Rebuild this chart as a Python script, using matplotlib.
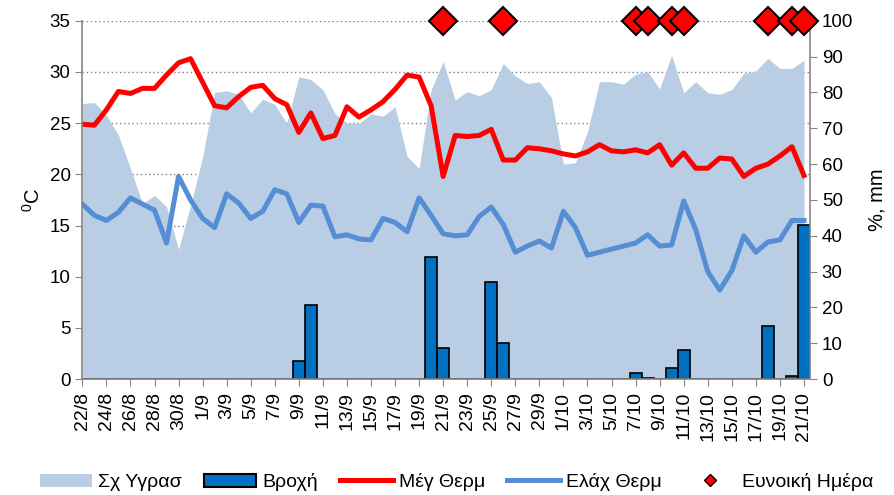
import matplotlib
matplotlib.use("Agg")
import matplotlib.pyplot as plt
import pandas as pd
from matplotlib.patches import Patch
from matplotlib.lines import Line2D

plt.rcParams['font.family'] = ['Liberation Sans', 'DejaVu Sans']
plt.rcParams['mathtext.default'] = 'regular'

# ----- data -----
days = pd.date_range("2013-08-22", "2013-10-21")
dates = [f"{d.day}/{d.month}" for d in days]

humidity = [76.9, 77.2, 73.7, 68.1, 58.8, 49.0, 51.3, 48.1, 36.2, 48.5, 62.0, 80.0, 80.5,
            79.4, 74.3, 78.1, 76.7, 71.3, 84.4, 83.6, 80.8, 74.1, 71.5, 71.3, 74.0,
            73.4, 76.0, 62.2, 58.8, 80.7, 88.6, 77.9, 80.2, 79.1, 80.8, 88.1, 84.6,
            82.5, 83.0, 78.6, 60.0, 60.4, 69.0, 83.0, 83.0, 82.3, 85.1, 85.8, 81.0,
            90.4, 79.9, 83.0, 79.9, 79.5, 80.8, 85.3, 86.0, 89.5, 86.7, 86.7, 89.0]

tmax = [24.9, 24.8, 26.3, 28.1, 27.9, 28.4, 28.4, 29.7, 30.9, 31.3, 29.0, 26.7, 26.5,
        27.6, 28.5, 28.7, 27.4, 26.8, 24.1, 26.0, 23.5, 23.8, 26.6, 25.6, 26.3,
        27.1, 28.3, 29.7, 29.5, 26.7, 19.8, 23.8, 23.7, 23.8, 24.4, 21.4, 21.4,
        22.6, 22.5, 22.3, 22.0, 21.8, 22.2, 22.9, 22.3, 22.2, 22.4, 22.1, 22.9,
        20.9, 22.1, 20.6, 20.6, 21.6, 21.5, 19.8, 20.6, 21.0, 21.8, 22.7, 19.9]

tmin = [17.1, 16.0, 15.5, 16.3, 17.7, 17.1, 16.5, 13.3, 19.8, 17.5, 15.7, 14.8, 18.1,
        17.2, 15.7, 16.4, 18.5, 18.1, 15.3, 17.0, 16.9, 13.9, 14.1, 13.7, 13.6,
        15.7, 15.3, 14.4, 17.7, 16.0, 14.2, 14.0, 14.1, 15.9, 16.8, 15.1, 12.4,
        13.0, 13.5, 12.8, 16.4, 14.8, 12.1, 12.4, 12.7, 13.0, 13.3, 14.1, 13.0,
        13.1, 17.4, 14.6, 10.5, 8.7, 10.6, 14.0, 12.4, 13.4, 13.6, 15.5, 15.5]

rain = [0, 0, 0, 0, 0, 0, 0, 0, 0, 0, 0, 0, 0,
        0, 0, 0, 0, 0, 5.1, 20.8, 0, 0, 0, 0, 0,
        0, 0, 0, 0, 34.1, 8.6, 0, 0, 0, 27.0, 10.2, 0,
        0, 0, 0, 0, 0, 0, 0, 0, 0, 1.6, 0.2, 0,
        3.2, 8.1, 0, 0, 0, 0, 0, 0, 14.8, 0, 0.8, 43.0]

good_days = ["21/9", "26/9", "7/10", "8/10", "10/10", "11/10", "18/10", "20/10", "21/10"]

x = list(range(len(dates)))
good_x = [dates.index(d) for d in good_days]

c_hum = '#B9CDE5'
c_rain = '#0070C0'
c_max = '#FF0000'
c_min = '#558ED5'
c_axis = '#868686'

fig = plt.figure(figsize=(8.95, 4.95), dpi=100)
ax = fig.add_axes([0.092, 0.234, 0.813, 0.724])

# left axis: temperature scale + grid
ax.set_xlim(0, 60.5)
ax.set_ylim(0, 35)
ax.set_yticks(range(0, 36, 5))
ax.yaxis.grid(True, color='#808080', linestyle=(0, (1, 2)), linewidth=1)
ax.set_axisbelow(True)
ax.set_xticks(x[::2])
ax.set_xticklabels(dates[::2], rotation=90)
ax.tick_params(axis='both', labelsize=13.5, color=c_axis, length=5)
ax.tick_params(axis='x', labelsize=14, pad=4)
ax.set_ylabel('$^{0}$C', fontsize=14.5, labelpad=4)
for s in ax.spines.values():
    s.set_visible(False)

# right axis: humidity and rain
axr = ax.twinx()
axr.set_ylim(0, 100)
axr.set_yticks(range(0, 101, 10))
axr.fill_between(x, humidity, 0, color=c_hum, lw=0)
axr.bar(x, rain, width=1.0, color=c_rain, edgecolor='black', linewidth=1.2)
axr.tick_params(axis='y', labelsize=13.5, color=c_axis, length=5)
axr.set_ylabel('%, mm', fontsize=14.5, labelpad=10)
for s in axr.spines.values():
    s.set_visible(False)

# temperatures on top of area
axt = ax.twinx()
axt.set_ylim(0, 35)
axt.yaxis.set_visible(False)
axt.plot(x, tmax, color=c_max, lw=3.6, solid_joinstyle='round')
axt.plot(x, tmin, color=c_min, lw=3.6, solid_joinstyle='round')
axt.spines['top'].set_visible(False)
for k in ['left', 'right', 'bottom']:
    axt.spines[k].set_color(c_axis)
    axt.spines[k].set_linewidth(1.2)

# favourable days markers
axd = ax.twinx()
axd.set_ylim(0, 100)
axd.set_axis_off()
axd.plot(good_x, [100] * len(good_x), linestyle='none', marker='D', ms=14,
         mfc='#FF0000', mec='black', mew=1.5, clip_on=False)

handles = [Patch(fc=c_hum, ec='none'),
           Patch(fc=c_rain, ec='black', lw=1.5),
           Line2D([], [], color=c_max, lw=3.6),
           Line2D([], [], color=c_min, lw=3.6),
           Line2D([], [], linestyle='none', marker='D', ms=6, mfc='#FF0000', mec='black', mew=1)]
labels = ['Σχ Υγρασ', 'Βροχή', 'Μέγ Θερμ', 'Ελάχ Θερμ', 'Ευνοική Ημέρα']
fig.legend(handles, labels, loc='center', bbox_to_anchor=(0.51, 0.026), ncol=5, frameon=False,
           fontsize=14, handlelength=2.7, handletextpad=0.3, columnspacing=1.15)

fig.savefig('out.png', dpi=100)
